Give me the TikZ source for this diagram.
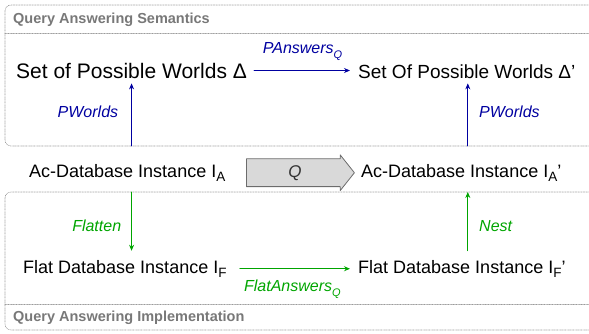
\documentclass[tikz,border=0pt]{standalone}
\usepackage{fontspec}
\setmainfont{Liberation Sans}
\usetikzlibrary{arrows.meta,shapes.arrows}
\definecolor{semblue}{RGB}{0,0,160}
\definecolor{impgreen}{RGB}{0,165,0}
\definecolor{hdgray}{RGB}{120,120,120}
\newcommand{\lowidx}[2][13.5]{\raisebox{-4.5pt}{\fontsize{#1}{#1}\selectfont #2}}
\begin{document}
\begin{tikzpicture}[x=1pt,y=-1pt,line cap=round,line join=round,
  inst/.style={font=\fontsize{18}{22}\selectfont,inner sep=0pt,anchor=base west},
  lbl/.style={font=\fontsize{16}{19}\selectfont\itshape,inner sep=0pt},
  hd/.style={font=\fontsize{14.5}{16}\selectfont\bfseries,text=hdgray,inner sep=0pt,anchor=base west},
  frame/.style={draw=gray!80,densely dotted,line width=0.6pt},
  arr/.style={-{Stealth[length=6pt,width=5pt]},line width=0.8pt},
  qarr/.style={single arrow,draw=gray!85!black,fill=gray!30,line width=0.8pt,
    minimum height=108pt,single arrow head extend=4pt,single arrow tip angle=103,
    text height=11pt,text depth=2pt,inner ysep=7pt,inner xsep=0pt,
    font=\fontsize{17}{19}\selectfont\itshape,text=black!80}]
\useasboundingbox (0,0) rectangle (589,333);
% the two boxes
\draw[frame,rounded corners=6pt] (5,5) rectangle (620,146);
\draw[frame] (5,33) -- (620,33);
\draw[frame,rounded corners=6pt] (5,192) rectangle (620,330);
\draw[frame] (5,304) -- (620,304);
\coordinate (sembot) at (0,146);
\coordinate (imptop) at (0,192);
\coordinate (qx) at (246,0);
\node[hd] (hsem) at (13,23) {Query Answering Semantics};
\node[hd] (himp) at (13,321) {Query Answering Implementation};
% instances
\node[inst,font=\fontsize{21}{24}\selectfont] (pw) at (16,78) {Set of Possible Worlds Δ};
\node[inst,font=\fontsize{19}{23}\selectfont] (pw2) at (358,78) {Set Of Possible Worlds Δ’};
\node[inst] (ia) at (29,177) {Ac-Database Instance I\lowidx{A}};
\node[inst] (ia2) at (361,177) {Ac-Database Instance I\lowidx{A}’};
\node[inst] (if) at (23,273) {Flat Database Instance I\lowidx{F}};
\node[inst] (if2) at (358,273) {Flat Database Instance I\lowidx{F}’};
\coordinate (lcol) at (pw.south);
\coordinate (rcol) at ([xshift=1pt]pw2.south);
% query
\node[qarr,anchor=tail] (q) at (qx |- ia.east) {Q};
% semantics
\draw[arr,semblue,shorten <=7pt,shorten >=8pt] (pw.east) -- node[lbl,above=10pt] {PAnswers\lowidx[11]{Q}} (pw.east -| pw2.west);
\draw[arr,semblue,shorten >=5pt] (lcol |- sembot) -- node[lbl,left=13pt] {PWorlds} (lcol);
\draw[arr,semblue,shorten >=5pt] (rcol |- sembot) -- node[lbl,right=11pt] {PWorlds} (rcol);
% implementation
\draw[arr,impgreen,shorten <=13pt,shorten >=8pt] (if.east) -- node[lbl,below=11pt] {FlatAnswers\lowidx[11]{Q}} (if.east -| if2.west);
\draw[arr,impgreen,shorten >=9pt] (lcol |- imptop) -- node[lbl,left=10pt] {Flatten} (lcol |- if.north);
\draw[arr,impgreen,shorten <=9pt] (rcol |- if2.north) -- node[lbl,right=11pt] {Nest} (rcol |- imptop);
\end{tikzpicture}
\end{document}
